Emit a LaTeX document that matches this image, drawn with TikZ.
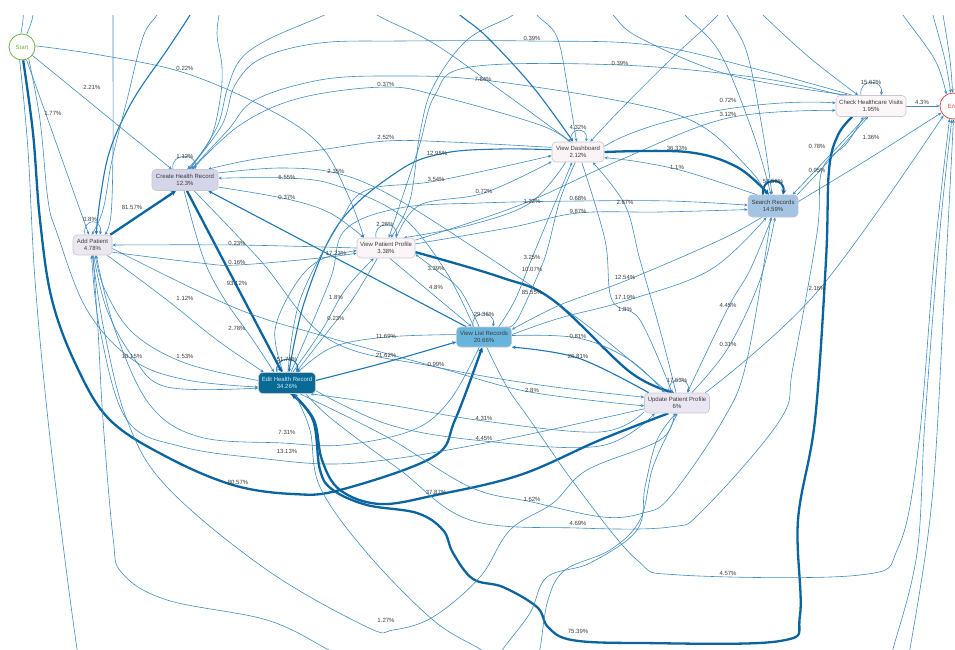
\documentclass[tikz,border=0pt]{standalone}
\usepackage{fontspec}
\setmainfont{Liberation Sans}
\usetikzlibrary{arrows.meta}
\pgfdeclarelayer{background}
\pgfsetlayers{background,main}
\definecolor{cthin}{RGB}{64,140,192}
\definecolor{cmed}{RGB}{30,118,178}
\definecolor{cthick}{RGB}{10,100,160}
\definecolor{lblc}{RGB}{60,60,60}
\definecolor{boxdraw}{RGB}{200,198,206}
\definecolor{fchr}{RGB}{212,213,233}
\definecolor{fap}{RGB}{236,232,241}
\definecolor{fvpp}{RGB}{251,245,248}
\definecolor{fvd}{RGB}{251,244,247}
\definecolor{fsr}{RGB}{163,196,226}
\definecolor{fchv}{RGB}{252,246,248}
\definecolor{fvlr}{RGB}{103,181,220}
\definecolor{fehr}{RGB}{10,106,150}
\definecolor{fupp}{RGB}{235,231,242}
\definecolor{gstart}{RGB}{112,180,70}
\definecolor{rend}{RGB}{215,80,80}
\definecolor{ehrtxt}{RGB}{205,238,252}
\newcommand{\fedge}[2][edgethin]{\draw[#1] plot[smooth,tension=0.6] coordinates {#2};}
\begin{document}
\begin{tikzpicture}[x=1pt,y=-1pt,
  box/.style={draw=boxdraw, line width=0.6pt, rounded corners=4pt, inner sep=0pt, align=center, font=\fontsize{6}{7.5}\selectfont, text=lblc},
  lbl/.style={font=\fontsize{6}{7}\selectfont, text=lblc, inner sep=0pt},
  edgethin/.style={draw=cthin, line width=0.6pt, -{Stealth[length=3.5pt,width=3pt]}},
  edgemed/.style={draw=cmed, line width=1.1pt, -{Stealth[length=4pt,width=3.6pt]}},
  edgethick/.style={draw=cthick, line width=2.3pt, -{Stealth[length=5pt,width=5pt]}},
  term/.style={circle, line width=0.8pt, fill=white, minimum size=26pt, inner sep=0pt, font=\fontsize{6}{7}\selectfont}
]
\useasboundingbox (0,0) rectangle (955,649);

% ---------------- nodes ----------------
\node[term, draw=gstart, text=gstart] (st) at (22,47) {Start};
\node[term, draw=rend, text=rend] (en) at (953,106) {End};
\node[box, fill=fchr, minimum width=66pt, minimum height=21pt] (chr) at (185,180) {Create Health Record\\12.3\%};
\node[box, fill=fap, minimum width=39pt, minimum height=20pt] (ap) at (92.5,245) {Add Patient\\4.78\%};
\node[box, fill=fvpp, minimum width=58pt, minimum height=20pt] (vpp) at (386,248) {View Patient Profile\\3.38\%};
\node[box, fill=fvd, minimum width=52pt, minimum height=20pt] (vd) at (578,152) {View Dashboard\\2.12\%};
\node[box, fill=fsr, minimum width=50pt, minimum height=22pt] (sr) at (773,206) {Search Records\\14.59\%};
\node[box, fill=fchv, minimum width=70pt, minimum height=21pt] (chv) at (871,106) {Check Healthcare Visits\\1.95\%};
\node[box, fill=fvlr, minimum width=55pt, minimum height=20pt] (vlr) at (484,337) {View List Records\\20.66\%};
\node[box, fill=fehr, text=ehrtxt, minimum width=57pt, minimum height=21pt] (ehr) at (287,383) {Edit Health Record\\34.26\%};
\node[box, fill=fupp, minimum width=65pt, minimum height=20pt] (upp) at (677,403) {Update Patient Profile\\6\%};

% ---------------- edges ----------------
\begin{pgfonlayer}{background}
\begin{scope}
\clip (0,15) rectangle (955,649);
% Start
\draw[edgethin] (st) -- (chr);
\draw[edgethin] (st) -- (ap);
\fedge{(st.5) (100,55) (185,73) (270,110) (320,145) (348,195) (vpp.155)}
\fedge[edgethick]{(st.-85) (33,133) (40,220) (52,300) (77,367) (110,420) (167,457) (233,485) (293,494) (340,490) (433,457) (455,420) (vlr.-100)}
\fedge{(st.95) (23,20) (24,0)}
\fedge{(st.70) (32,20) (35,0)}
\fedge{(st.-100) (28,150) (35,280) (48,420) (65,560) (77,649) (80,665)}
\fedge{(st.-60) (40,120) (48,200) (57,233) (87,310) (133,360) (187,380) (ehr.188)}
% Create Health Record
\fedge{(chv.150) (760,70) (650,45) (532,41) (400,41) (320,43) (262,58) (235,85) (222,125) (chr.70)}
\fedge{(sr.120) (750,170) (700,125) (630,103) (483,80) (390,76) (320,80) (255,100) (228,130) (chr.60)}
\fedge{(vd.130) (540,125) (443,97) (386,87) (300,98) (240,125) (chr.55)}
\fedge{(vd.170) (450,142) (386,141) (320,150) (250,160) (chr.25)}
\fedge{(chr.12) (280,168) (336,173) (390,195) (470,245) (580,320) (upp.130)}
\fedge{(chr.-12) (287,199) (330,213) (vpp.155)}
\fedge{(vlr.135) (445,270) (400,215) (335,185) (287,178) (chr.3)}
\draw[edgethick] (ap.30) -- (chr.-130);
\draw[edgethick] (chr.-80) -- (ehr.115);
\fedge{(chr.-95) (203,257) (223,297) (253,340) (ehr.140)}
\fedge{(chr.-50) (260,260) (330,340) (436,367) (540,385) (upp.170)}
\draw[edgemed] (vlr.150) -- (chr.-25);
\fedge{(222,0) (217,33) (222,67) (220,100) (210,140) (chr.78)}
\fedge{(chr.65) (217,127) (227,90) (240,60) (267,40) (320,17) (345,5)}
% Add Patient
\fedge{(vpp.180) (237,245) (ap.0)}
\fedge{(ap.-20) (200,263) (237,265) (320,258) (vpp.-170)}
\fedge{(ap.-85) (107,310) (133,357) (167,387) (ehr.190)}
\fedge{(ap.-35) (167,300) (217,340) (ehr.155)}
\fedge{(ehr.175) (185,363) (133,333) (105,290) (ap.-75)}
\fedge{(ap.-10) (233,307) (320,335) (440,368) (530,392) (upp.-175)}
\fedge{(113,0) (113,60) (113,150) (111,215) (ap.40)}
\fedge[edgemed]{(198,0) (190,15) (167,50) (133,100) (110,150) (100,200) (ap.70)}
\fedge{(165,0) (157,15) (143,37) (127,100) (112,160) (103,210) (ap.95)}
\fedge{(ap.-88) (98,330) (103,420) (113,537) (122,573) (167,600) (267,620) (327,649) (345,660)}
% View Patient Profile
\fedge{(chv.160) (760,78) (620,65) (470,67) (435,95) (418,150) (vpp.75)}
\fedge{(vpp.15) (520,205) (620,160) (728,118) (chv.187)}
\fedge{(ehr.110) (275,330) (295,285) (320,260) (vpp.-175)}
\fedge{(ehr.62) (322,330) (345,290) (vpp.-140)}
\fedge{(vpp.-130) (352,300) (325,335) (ehr.50)}
\fedge{(vlr.115) (460,290) (436,270) (vpp.-12)}
\fedge{(vpp.-70) (430,292) (vlr.140)}
\fedge[edgethick]{(vpp.-8) (500,277) (553,300) (630,372) (upp.105)}
\fedge{(vpp.45) (420,205) (484,193) (vd.-160)}
\fedge{(vpp.8) (513,227) (578,213) (660,212) (sr.-172)}
\fedge{(522,0) (513,15) (467,40) (433,87) (420,133) (410,200) (vpp.65)}
% View Dashboard
\draw[edgethin] (vd.12) .. controls (650,118) and (760,98) .. (chv.175);
\fedge[edgethick]{(vd.east) (687,152) (737,167) (sr.110)}
\fedge{(sr.145) (687,172) (640,162) (vd.-12)}
\fedge[edgemed]{(vd.175) (500,149) (445,153) (400,170) (340,222) (305,300) (ehr.80)}
\fedge{(ehr.85) (300,300) (340,222) (367,190) (436,181) (vd.-172)}
\fedge{(vd.-105) (560,200) (548,247) (540,270) (517,320) (vlr.25)}
\fedge{(vlr.35) (515,300) (532,258) (552,210) (vd.-120)}
\fedge{(vd.-140) (530,203) (470,225) (vpp.30)}
\fedge{(ehr.70) (330,280) (345,230) (400,208) (480,203) (578,201) (670,201) (sr.178)}
\fedge{(upp.95) (660,330) (640,260) (625,205) (vd.-35)}
\fedge{(vd.-70) (605,240) (612,300) (640,320) (upp.115)}
\fedge[edgemed]{(445,0) (460,15) (487,37) (533,87) (vd.115)}
\fedge{(530,0) (537,15) (557,37) (568,90) (vd.98)}
\fedge{(725,0) (718,15) (670,60) (620,110) (vd.40)}
\fedge{(365,0) (377,15) (433,43) (500,90) (vd.125)}
% Search Records / Check Healthcare Visits
\draw[edgethin] (chv.-115) -- (sr.30);
\fedge{(sr.25) (825,165) (chv.-105)}
\fedge{(sr.10) (870,158) (en.-150)}
\draw[edgethin] (chv) -- (en);
\fedge{(sr.-135) (720,240) (625,281) (560,305) (vlr.15)}
\fedge{(vlr.5) (560,318) (625,301) (710,270) (sr.-120)}
\fedge{(sr.-95) (750,270) (728,308) (upp.45)}
\fedge{(upp.35) (728,348) (760,280) (sr.-80)}
\fedge{(600,0) (613,15) (640,38) (730,75) (chv.155)}
\fedge{(678,0) (685,15) (720,53) (753,133) (sr.100)}
\fedge{(722,0) (727,15) (747,53) (763,133) (sr.95)}
\fedge{(750,0) (763,15) (810,58) (chv.140)}
\fedge{(895,0) (903,15) (935,60) (en.120)}
\fedge{(930,0) (933,15) (945,60) (en.100)}
\fedge{(940,0) (943,15) (950,60) (en.92)}
% View List Records / Edit Health Record / Update Patient Profile
\fedge{(vlr.175) (387,337) (333,347) (ehr.45)}
\fedge[edgemed]{(ehr.5) (387,362) (vlr.-170)}
\fedge{(upp.20) (817,292) (en.-135)}
\fedge[edgemed]{(upp.160) (578,358) (vlr.-20)}
\fedge{(vlr.3) (578,338) (630,360) (upp.140)}
\fedge{(upp.-165) (600,432) (484,421) (390,405) (ehr.-25)}
\fedge{(ehr.-15) (390,425) (484,441) (600,446) (upp.-155)}
\fedge{(vlr.-115) (450,400) (413,430) (343,445) (283,443) (200,437) (150,405) (115,330) (ap.-70)}
\fedge{(upp.-170) (540,432) (480,444) (400,458) (333,464) (267,459) (183,447) (127,420) (100,330) (ap.-95)}
\fedge[edgethick]{(upp.-130) (600,440) (520,475) (436,495) (380,504) (340,490) (322,460) (314,420) (ehr.-62)}
\fedge[edgethick]{(chv.-150) (838,135) (829,170) (826,260) (815,420) (798,520) (800,615) (780,641) (640,643) (572,640) (548,627) (537,607) (503,587) (473,579) (453,553) (443,530) (417,513) (367,505) (333,490) (320,470) (313,420) (ehr.-68)}
\fedge{(ehr.-40) (387,437) (470,487) (532,502) (603,517) (643,513) (670,497) (723,420) (747,360) (sr.-100)}
\fedge{(ehr.-30) (333,420) (400,470) (470,520) (578,528) (670,527) (703,510) (780,420) (793,367) (817,233) (822,170) (847,143) (chv.-125)}
\fedge{(vlr.-75) (507,387) (530,420) (577,487) (637,560) (680,575) (860,575) (898,548) (918,450) (935,250) (en.-105)}
\fedge{(upp.-105) (660,440) (587,470) (553,503) (510,530) (480,577) (433,617) (393,630) (367,627) (267,570) (167,487) (127,420) (104,330) (ap.-90)}
\fedge{(888,665) (893,649) (917,553) (925,420) (940,230) (en.-95)}
\fedge{(905,665) (910,649) (932,500) (944,300) (en.-88)}
\fedge{(495,665) (503,649) (530,613) (547,577) (590,563) (637,530) (645,487) (657,440) (upp.-95)}
\fedge{(535,665) (540,649) (548,600) (565,570) (610,550) (640,520) (652,470) (667,435) (upp.-88)}
\fedge{(ehr.-55) (310,430) (320,487) (367,553) (433,620) (480,649) (495,660)}
% self loops
\draw[edgethin] ([xshift=-12pt]chr.north) .. controls +(-3,-17) and +(3,-17) .. ([xshift=10pt]chr.north);
\draw[edgethin] ([xshift=-7.5pt]ap.north) .. controls +(-3,-17) and +(3,-17) .. ([xshift=7.5pt]ap.north);
\draw[edgethin] ([xshift=-10pt]vpp.north) .. controls +(-3,-17) and +(3,-17) .. ([xshift=10pt]vpp.north);
\draw[edgethin] ([xshift=-7pt]vd.north) .. controls +(-3,-15) and +(3,-15) .. ([xshift=8pt]vd.north);
\draw[edgethick, line width=2pt] ([xshift=-10pt]sr.north) .. controls +(-3,-18) and +(3,-18) .. ([xshift=10pt]sr.north);
\draw[edgethin] ([xshift=-10pt]chv.north) .. controls +(-3,-17) and +(3,-17) .. ([xshift=10pt]chv.north);
\draw[edgethin] ([xshift=-11pt]vlr.north) .. controls +(-3,-17) and +(3,-17) .. ([xshift=9pt]vlr.north);
\draw[edgemed] ([xshift=-10pt]ehr.north) .. controls +(-3,-17) and +(3,-17) .. ([xshift=10pt]ehr.north);
\draw[edgethin] ([xshift=-8pt]upp.north) .. controls +(-3,-17) and +(3,-17) .. ([xshift=11pt]upp.north);
\end{scope}
\end{pgfonlayer}

% ---------------- labels ----------------
\foreach \x/\y/\t [count=\i] in {
532/38/0.39, 620/63/0.39, 185/68/0.22, 483/79/7.84, 386/84/0.37, 92/87/2.21,
728/100/0.72, 871/82/15.62, 922/102/4.3, 53/113/1.77, 728/114/3.12, 578/127/4.32,
871/137/1.36, 386/137/2.52, 677/148/36.33, 817/146/0.78, 437/153/12.95, 185/156/1.12,
677/167/1.1, 817/170/0.05, 336/171/2.35, 287/177/6.55, 436/179/3.54, 773/181/58.56,
484/191/0.72, 287/197/0.37, 578/198/0.68, 532/201/1.22, 625/202/2.67, 132/207/81.57,
578/211/9.87, 90/219/0.8, 385/224/2.26, 237/243/0.23, 336/253/17.23, 532/257/3.25,
237/262/0.16, 436/268/3.39, 532/269/10.07, 625/277/12.54, 237/283/93.12, 436/287/4.8,
817/288/2.16, 532/292/85.55, 336/297/1.8, 185/298/1.12, 625/297/17.19, 728/305/4.45,
625/309/1.8, 336/318/0.23, 484/314/29.36, 237/328/2.78, 386/336/11.69, 578/336/0.81,
728/344/0.31, 132/356/10.15, 185/356/1.53, 386/355/21.62, 578/356/26.81, 287/359/51.78,
436/364/0.99, 677/380/17.53, 532/390/2.8, 484/418/4.31, 287/432/7.31, 484/438/4.45,
287/451/13.13, 238/482/80.57, 436/492/37.87, 532/499/1.62, 578/523/4.69, 728/573/4.57,
386/620/1.27, 578/631/75.39}
  \node[lbl] (l\i) at (\x,\y) {\t\%};
\end{tikzpicture}
\end{document}
